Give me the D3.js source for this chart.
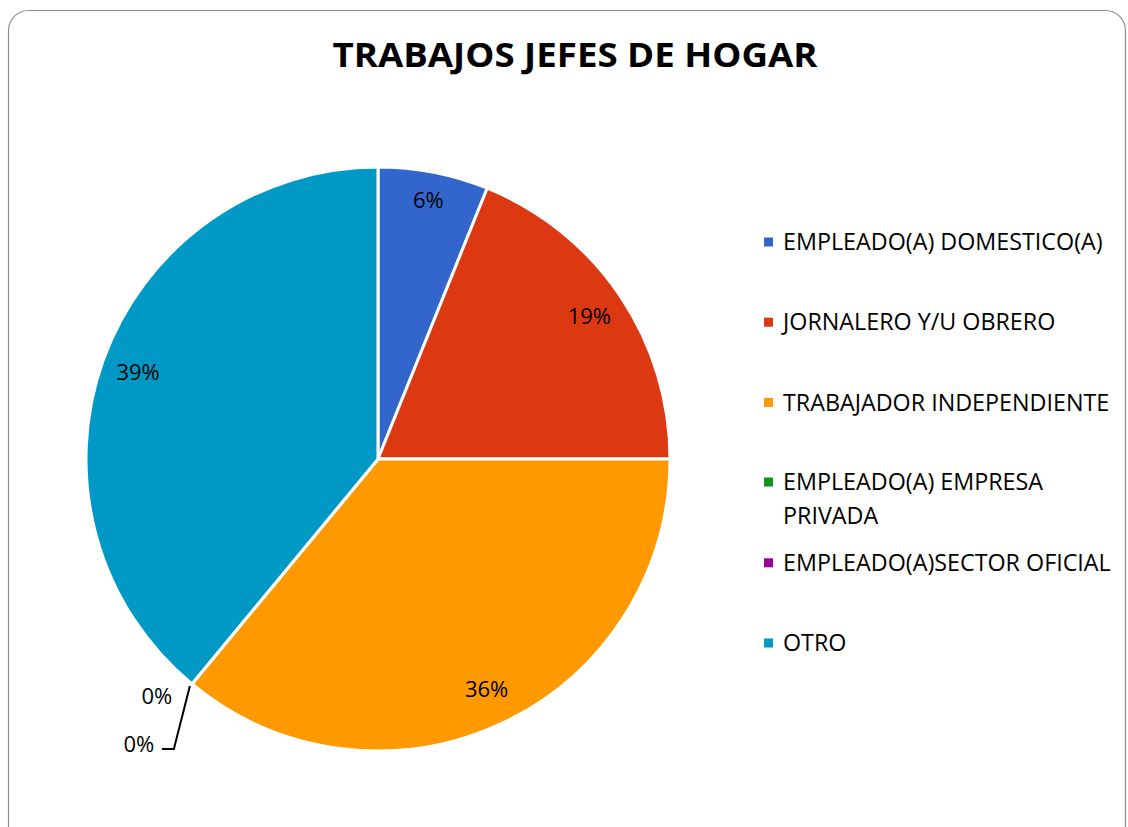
<!DOCTYPE html>
<html>
<head>
<meta charset="utf-8">
<script src="https://cdn.jsdelivr.net/npm/d3@7"></script>
<style>
  body { margin: 0; background: #fff; }
  text { font-family: "Open Sans", "Noto Sans", sans-serif; fill: #000; }
</style>
</head>
<body>
<div id="chart"></div>
<script>
var width = 1128,
    height = 827;

// data
var categories = ["EMPLEADO(A) DOMESTICO(A)", "JORNALERO Y/U OBRERO", "TRABAJADOR INDEPENDIENTE",
                  "EMPLEADO(A) EMPRESA PRIVADA", "EMPLEADO(A)SECTOR OFICIAL", "OTRO"];
var values = [6.1, 18.9, 36.0, 0, 0, 39.0];
var colors = ["#3366cc", "#dc3912", "#ff9900", "#109618", "#990099", "#0099c6"];

var svg = d3.select("#chart")
  .append("svg")
  .attr("width", width)
  .attr("height", height);

// frame
svg.append("rect")
  .attr("x", 8.5).attr("y", 10.5)
  .attr("width", 1117).attr("height", 840)
  .attr("rx", 20)
  .attr("fill", "#fff")
  .attr("stroke", "#8c8c8c")
  .attr("stroke-width", 1.2);

svg.append("text")
  .attr("x", 575).attr("y", 67)
  .attr("text-anchor", "middle")
  .attr("font-size", 34)
  .attr("font-weight", 700)
  .attr("textLength", 485)
  .attr("lengthAdjust", "spacingAndGlyphs")
  .text("TRABAJOS JEFES DE HOGAR");

var cx = 378, cy = 459, r = 292;
var total = d3.sum(values);

var pie = d3.pie().sort(null).value(function(d){ return d; });
var arcs = pie(values);
var arc = d3.arc().innerRadius(0).outerRadius(r);
var labelArc = d3.arc().innerRadius(255).outerRadius(255);

var g = svg.append("g").attr("transform", "translate(" + cx + "," + cy + ")");

g.selectAll(".slice")
  .data(arcs)
  .enter()
  .append("path")
  .attr("class", "slice")
  .attr("d", arc)
  .attr("fill", function(d, i){ return colors[i]; })
  .attr("stroke", "#fff")
  .attr("stroke-width", 3)
  .attr("stroke-linejoin", "round");

function pct(v){ return Math.round(v / total * 100) + "%"; }

// labels for non-zero slices
g.selectAll(".lbl")
  .data(arcs.filter(function(d){ return d.value > 0; }))
  .enter()
  .append("text")
  .attr("class", "lbl")
  .attr("transform", function(d){
    var c = labelArc.centroid(d);
    if (d.index === 0) c = d3.arc().innerRadius(264).outerRadius(264).centroid(d);
    return "translate(" + c[0] + "," + c[1] + ")";
  })
  .attr("text-anchor", "middle")
  .attr("dy", "0.35em")
  .attr("font-size", 22)
  .text(function(d){ return pct(d.value); });

// zero slices: labels outside with a leader line
var zeros = arcs.filter(function(d){ return d.value === 0; });
var a = zeros[0].startAngle;
var ex = r * Math.sin(a), ey = -r * Math.cos(a);

g.append("text")
  .attr("x", ex - 35).attr("y", ey + 12)
  .attr("text-anchor", "middle")
  .attr("dy", "0.35em")
  .attr("font-size", 22)
  .text(pct(zeros[0].value));

g.append("path")
  .attr("d", "M" + (ex - 2) + "," + (ey + 2) + "L" + (ex - 18) + "," + (ey + 65) + "L" + (ex - 30) + "," + (ey + 65))
  .attr("fill", "none")
  .attr("stroke", "#000")
  .attr("stroke-width", 2);

g.append("text")
  .attr("x", ex - 53).attr("y", ey + 60)
  .attr("text-anchor", "middle")
  .attr("dy", "0.35em")
  .attr("font-size", 22)
  .text(pct(zeros[1].value));

// legend
var legendY = d3.scalePoint().domain(d3.range(categories.length)).range([242, 643]);
var legend = svg.append("g");
var items = legend.selectAll(".item")
  .data(categories)
  .enter()
  .append("g")
  .attr("class", "item")
  .attr("transform", function(d, i){
    var y = legendY(i);
    if (i === 3) y = 482;
    return "translate(764," + y + ")";
  });

items.append("rect")
  .attr("x", 0).attr("y", -4.5)
  .attr("width", 9).attr("height", 9)
  .attr("fill", function(d, i){ return colors[i]; });

items.append("text")
  .attr("x", 19).attr("y", 0)
  .attr("dy", "0.35em")
  .attr("font-size", 23.3)
  .each(function(d){
    var t = d3.select(this);
    if (d === "EMPLEADO(A) EMPRESA PRIVADA") {
      t.append("tspan").attr("x", 19).text("EMPLEADO(A) EMPRESA");
      t.append("tspan").attr("x", 19).attr("dy", 34).text("PRIVADA");
    } else {
      t.text(d);
    }
  });
</script>
</body>
</html>
